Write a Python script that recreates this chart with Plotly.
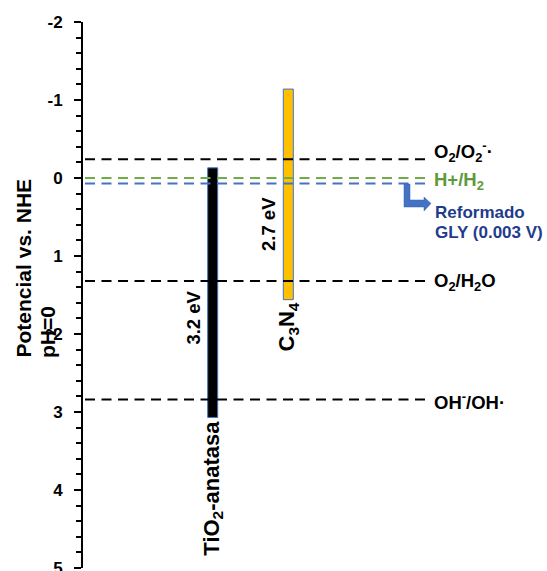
import plotly.graph_objects as go

# Redox potentials (V vs. NHE, pH=0) of the reference couples
couple_labels = ["O<sub>2</sub>/O<sub>2</sub><sup>-</sup>·", "H+/H<sub>2</sub>", "O<sub>2</sub>/H<sub>2</sub>O", "OH<sup>-</sup>/OH·"]
couple_values = [-0.24, 0.0, 1.32, 2.84]
couple_colors = ["black", "#70AD47", "black", "black"]
couple_label_colors = ["black", "#5E9A3A", "black", "black"]
couple_label_shift = [8, -3, -1, -1]

# Glycerol reforming potential line
gly_value = 0.07
gly_text = ["Reformado", "GLY (0.003 V)"]

# Semiconductors: conduction band edge (top) and valence band edge (bottom)
semis = ["TiO<sub>2</sub>-anatasa", "C<sub>3</sub>N<sub>4</sub>"]
cb_edge = [-0.13, -1.14]
vb_edge = [3.07, 1.56]
gap_labels = ["3.2 eV", "2.7 eV"]
semi_x = [129.7, 205.3]
semi_colors = ["black", "#FFC000"]

tick_vals = [-2, -1, 0, 1, 2, 3, 4, 5]

FONT = "Arial, Liberation Sans, sans-serif"
W, H = 547, 571
L, R, T, B = 83, 0, 22, 3
line_x0, line_x1 = 2, 342
PW, PH = W - L - R, H - T - B

fig = go.Figure()

# Dashed reference lines
for v, c in zip(couple_values, couple_colors):
    fig.add_trace(go.Scatter(x=[line_x0, line_x1], y=[v, v], mode="lines",
                             line=dict(color=c, width=2, dash="10px,6.5px"),
                             hoverinfo="skip", showlegend=False))
fig.add_trace(go.Scatter(x=[line_x0, line_x1], y=[gly_value, gly_value], mode="lines",
                         line=dict(color="#4472C4", width=2, dash="10px,6.5px"),
                         hoverinfo="skip", showlegend=False))

# Band bars
for i in range(len(semis)):
    fig.add_trace(go.Bar(x=[semi_x[i]], y=[vb_edge[i] - cb_edge[i]], base=[cb_edge[i]],
                         width=10, marker=dict(color=semi_colors[i],
                                               line=dict(color="#4472C4", width=1)),
                         hoverinfo="skip", showlegend=False))

annotations = []
# Couple labels on the right
for lab, v, c, s in zip(couple_labels, couple_values, couple_label_colors, couple_label_shift):
    annotations.append(dict(x=349, y=v, xref="x", yref="y", text=lab, showarrow=False,
                            xanchor="left", yanchor="middle", yshift=s,
                            font=dict(family=FONT, size=18.5, color=c, weight="bold")))
# Glycerol label
for txt, s in zip(gly_text, [-29, -49]):
    annotations.append(dict(x=350, y=gly_value, xref="x", yref="y", text=txt, showarrow=False,
                            xanchor="left", yanchor="middle", yshift=s,
                            font=dict(family=FONT, size=17, color="#1F3C8C", weight="bold")))

# Semiconductor names below bars, band-gap labels beside them
for i in range(len(semis)):
    annotations.append(dict(x=semi_x[i], y=vb_edge[i], xref="x", yref="y", text=semis[i],
                            showarrow=False, textangle=-90, xanchor="center", yanchor="top",
                            yshift=-1,
                            font=dict(family=FONT, size=22, color="black", weight="bold")))
gap_y = [(cb_edge[0] + vb_edge[0]) / 2 + 0.32, (cb_edge[1] + vb_edge[1]) / 2 + 0.38]
gap_dx = [-18.7, -20.3]
for i in range(len(semis)):
    annotations.append(dict(x=semi_x[i] + gap_dx[i], y=gap_y[i], xref="x", yref="y", text=gap_labels[i],
                            showarrow=False, textangle=-90, xanchor="center", yanchor="middle",
                            font=dict(family=FONT, size=18.5, color="black", weight="bold")))

# Axis title (two lines, both starting at the same height)
for txt, cx in zip(["Potencial vs. NHE", "pH=0"], [23, 47]):
    annotations.append(dict(x=(cx - L) / PW, y=1 - (360 - T) / PH, xref="paper", yref="paper",
                            text=txt, showarrow=False, textangle=-90,
                            xanchor="center", yanchor="bottom",
                            font=dict(family=FONT, size=21, color="black", weight="bold")))
annotations.append(dict(x=(51 - L) / PW, y=1 - (332 - T) / PH, xref="paper", yref="paper",
                        text="2", showarrow=False, textangle=-90,
                        xanchor="center", yanchor="middle",
                        font=dict(family=FONT, size=14, color="black", weight="bold")))

# Bent arrow pointing to the glycerol label
def py(p):
    return (p - (T + 2 * PH / 7)) / (PH / 7)

pts = [(404, 184), (410, 184), (410, 200), (424, 200), (424, 197), (431, 203.5),
       (424, 211), (424, 207), (404, 207)]
path = "M " + " L ".join(f"{x - L},{py(y)}" for x, y in pts) + " Z"
shapes = [dict(type="path", path=path, xref="x", yref="y", fillcolor="#4472C4",
               line=dict(color="#3A62B0", width=0.5))]

fig.update_layout(
    width=W, height=H, margin=dict(l=L, r=R, t=T, b=B, autoexpand=False),
    paper_bgcolor="white", plot_bgcolor="white",
    barmode="overlay",
    xaxis=dict(range=[0, PW], visible=False, fixedrange=True, automargin=False),
    yaxis=dict(range=[5, -2], tickvals=tick_vals, ticktext=[str(t) for t in tick_vals],
               automargin=False,
               showline=True, linecolor="black", linewidth=2,
               ticks="outside", ticklen=7, tickwidth=2, tickcolor="black",
               ticklabelstandoff=8, ticklabeloverflow="allow",
               minor=dict(dtick=0.2, ticks="outside", ticklen=5, tickwidth=2,
                          tickcolor="black", showgrid=False),
               showgrid=False, zeroline=False,
               tickfont=dict(family=FONT, size=17, color="black", weight="bold")),
    annotations=annotations, shapes=shapes,
)

fig.write_html("out.html")
